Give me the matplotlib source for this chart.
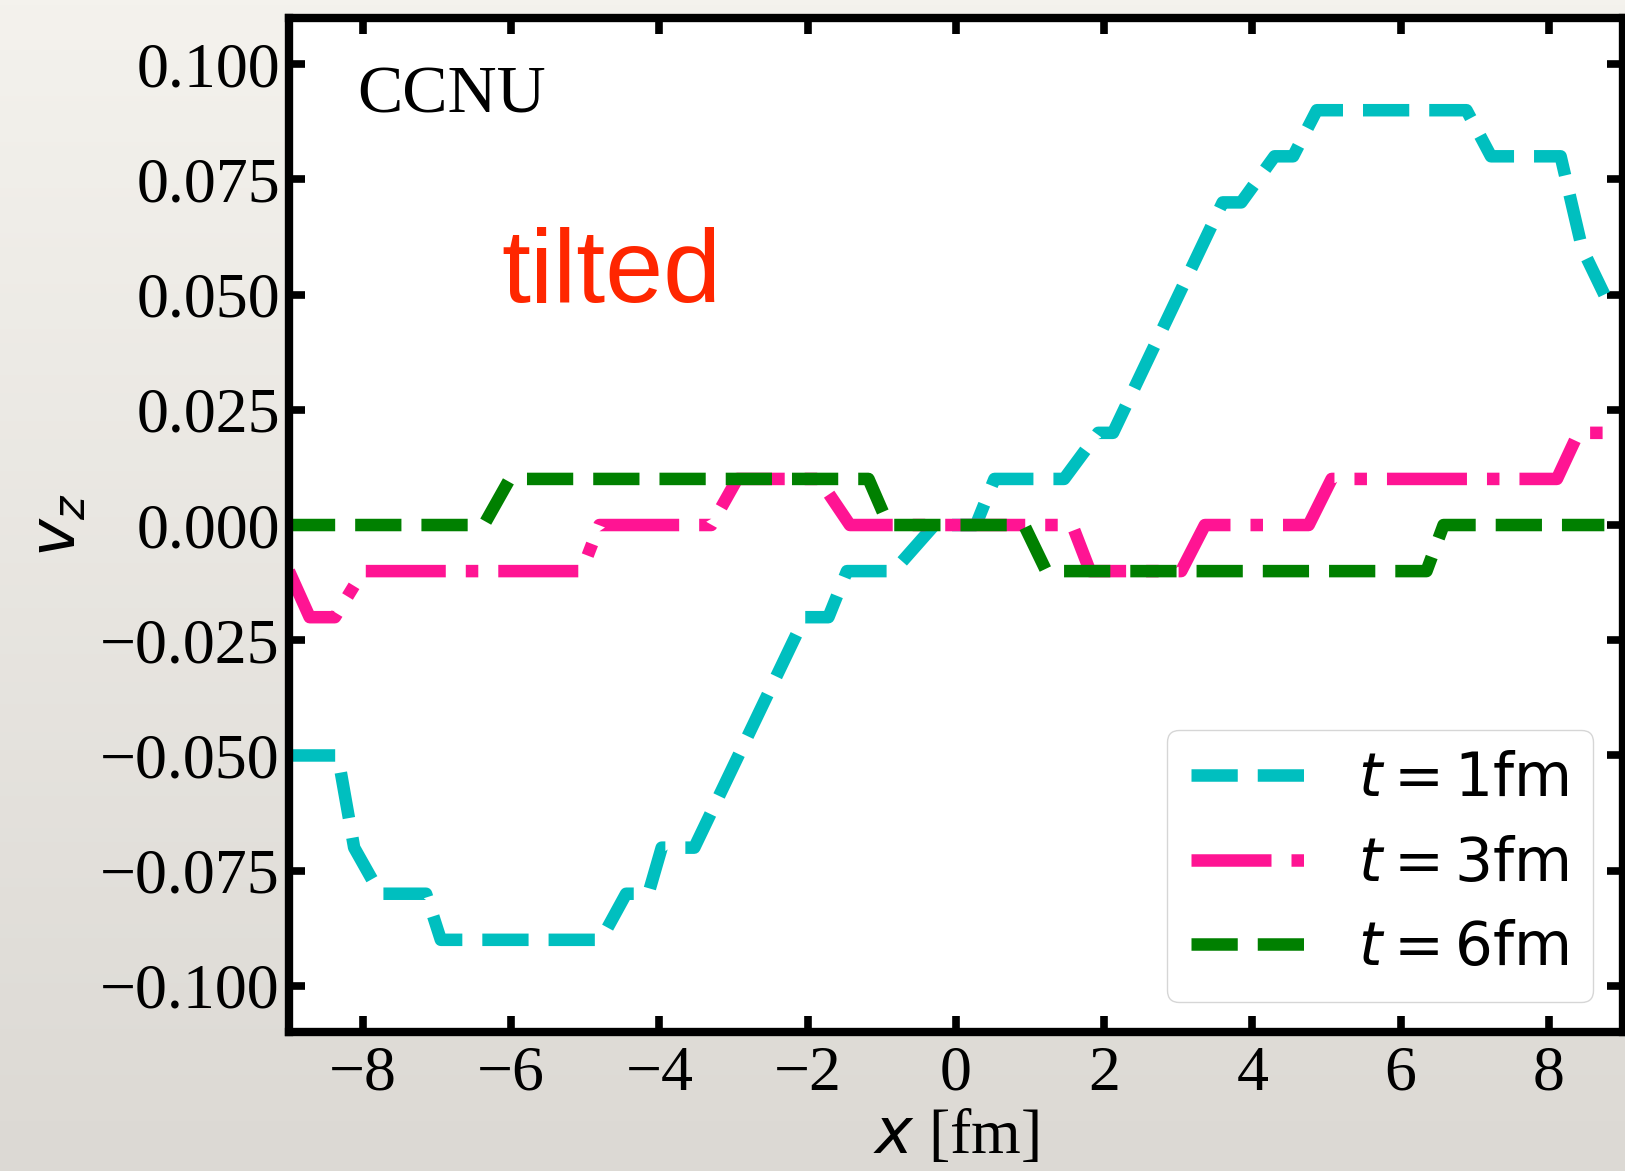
import matplotlib
matplotlib.use('Agg')
import matplotlib.pyplot as plt
import numpy as np
from matplotlib.colors import LinearSegmentedColormap
from matplotlib.ticker import FuncFormatter

plt.rcParams['font.family'] = 'Liberation Serif'
plt.rcParams['mathtext.fontset'] = 'dejavusans'

# v_z profiles (x in fm)
x_t1 = [-9.0, -8.34, -8.12, -7.77, -7.15, -6.95, -4.79, -4.45, -4.15, -3.97,
        -3.53, -2.04, -1.72, -1.47, -0.84, -0.29, 0.27, 0.52, 1.46, 1.92,
        2.12, 3.60, 3.85, 4.30, 4.55, 4.87, 6.89, 7.22, 8.16, 8.45, 8.75]
vz_t1 = [-0.05, -0.05, -0.07, -0.08, -0.08, -0.09, -0.09, -0.08, -0.08, -0.07,
         -0.07, -0.02, -0.02, -0.01, -0.01, 0.0, 0.0, 0.01, 0.01, 0.02,
         0.02, 0.07, 0.07, 0.08, 0.08, 0.09, 0.09, 0.08, 0.08, 0.06, 0.05]

x_t3 = [-9.0, -8.72, -8.38, -8.0, -5.05, -4.81, -3.30, -2.95, -1.85, -1.43,
        1.57, 1.81, 3.04, 3.36, 4.76, 5.07, 8.11, 8.40, 8.75]
vz_t3 = [-0.01, -0.02, -0.02, -0.01, -0.01, 0.0, 0.0, 0.01, 0.01, 0.0,
         0.0, -0.01, -0.01, 0.0, 0.0, 0.01, 0.01, 0.02, 0.02]

x_t6 = [-9.0, -6.37, -6.02, -1.18, -0.91, 0.92, 1.22, 6.35, 6.58, 8.75]
vz_t6 = [0.0, 0.0, 0.01, 0.01, 0.0, 0.0, -0.01, -0.01, 0.0, 0.0]

labels = [r'$t = 1\rm fm$', r'$t = 3\rm fm$', r'$t = 6\rm fm$']

fig = plt.figure(figsize=(16.25, 11.71), dpi=100)

# fondo tipo diapositiva
bg = fig.add_axes([0, 0, 1, 1], zorder=-10)
cmap_bg = LinearSegmentedColormap.from_list('bg', ['#F4F2ED', '#DCD9D4'])
bg.imshow(np.linspace(0, 1, 256).reshape(-1, 1), aspect='auto', cmap=cmap_bg,
          extent=[0, 1, 0, 1], origin='upper')
bg.axis('off')

ax = fig.add_axes([0.1778, 0.1187, 0.8209, 0.8659])
ax.plot(x_t1, vz_t1, color='c', ls='--', lw=9, label=labels[0])
ax.plot(x_t3, vz_t3, color='deeppink', ls='-.', lw=9, label=labels[1])
ax.plot(x_t6, vz_t6, color='g', ls='--', lw=9, label=labels[2])

ax.set_xlim(-9, 9)
ax.set_ylim(-0.11, 0.11)
ax.set_xticks(np.arange(-8, 9, 2))
ax.set_yticks(np.arange(-0.1, 0.1001, 0.025))
ax.yaxis.set_major_formatter(FuncFormatter(
    lambda v, p: f'{round(v, 3) + 0.0:.3f}'.replace('-', '\u2212')))
ax.tick_params(direction='in', top=True, right=True, length=11.5, width=5.5,
               labelsize=46)
ax.tick_params(axis='x', pad=10)
ax.tick_params(axis='y', pad=6.5)
for s in ax.spines.values():
    s.set_linewidth(6)

ax.set_xlabel(r'$x$ [fm]', fontsize=46, labelpad=4)
ax.set_ylabel(r'$v_z$', fontsize=46, labelpad=8)

ax.text(0.051, 0.907, 'CCNU', transform=ax.transAxes, fontsize=49, va='baseline')
ax.text(0.159, 0.72, 'tilted', transform=ax.transAxes, fontsize=75,
        color='#FF2600', family='Liberation Sans', va='baseline')

ax.legend(loc='lower right', fontsize=43)

fig.savefig('out.png', dpi=100)
